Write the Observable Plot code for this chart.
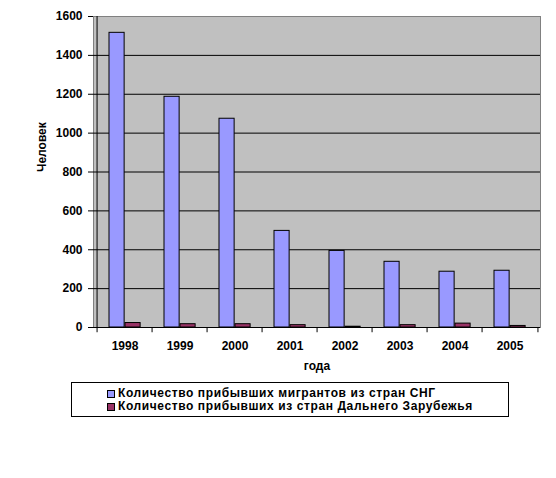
<!DOCTYPE html>
<html>
<head>
<meta charset="utf-8">
<script src="https://cdn.jsdelivr.net/npm/d3@7"></script>
<script src="https://cdn.jsdelivr.net/npm/@observablehq/plot@0.6"></script>
<style>
  body { margin: 0; background: #fff; }
  #wrap { position: relative; width: 556px; height: 478px; font-family: Arial, "Liberation Sans", sans-serif; }
  #legend { position: absolute; left: 71px; top: 382px; width: 436px; height: 33px; border: 1px solid #000; box-sizing: content-box; font-weight: bold; font-size: 12px; letter-spacing: 0.6px; }
  .row { position: absolute; left: 35px; display: flex; align-items: center; white-space: nowrap; line-height: 13px; }
  .sw { width: 6px; height: 6px; border: 1px solid #000; margin-right: 3px; }
</style>
</head>
<body>
<div id="wrap"></div>
<script>
const years = ["1998", "1999", "2000", "2001", "2002", "2003", "2004", "2005"];
const cisValues = [1516, 1187, 1074, 497, 394, 338, 287, 292];
const foreignValues = [23, 17, 17, 12, 4, 12, 20, 8];
const seriesNames = ["Количество прибывших мигрантов из стран СНГ", "Количество прибывших из стран Дальнего Зарубежья"];
const seriesColors = ["#9999FF", "#993366"];
const yTicks = [0, 200, 400, 600, 800, 1000, 1200, 1400, 1600];
const gridTicks = [200, 400, 600, 800, 1000, 1200, 1400];
const xTitle = "года";
const yTitle = "Человек";

const rows = years.map((y, i) => ({year: y, cis: cisValues[i], foreign: foreignValues[i]}));

const W = 556, H = 376, mL = 93, mR = 16, mT = 16, mB = 49;
const step = (W - mL - mR) / years.length;

const chart = Plot.plot({
  width: W, height: H,
  marginLeft: mL, marginRight: mR, marginTop: mT, marginBottom: mB,
  style: {fontFamily: "Arial, 'Liberation Sans', sans-serif", fontSize: "12px", fontWeight: "bold", color: "#000", background: "transparent"},
  x: {domain: years, padding: 0, tickSize: 0, tickPadding: 14, label: null},
  y: {domain: [0, 1600], ticks: yTicks, tickFormat: d => String(d), tickSize: 5, tickPadding: 6, label: null},
  marks: [
    Plot.frame({fill: "#C0C0C0", stroke: "#808080"}),
    Plot.ruleY(gridTicks, {stroke: "#000", strokeWidth: 1}),
    Plot.barY(rows, {x: "year", y: "cis", fill: seriesColors[0], stroke: "#000", strokeWidth: 1, insetLeft: 12, insetRight: step - 28}),
    Plot.barY(rows, {x: "year", y: "foreign", fill: seriesColors[1], stroke: "#000", strokeWidth: 1, insetLeft: 28, insetRight: step - 44}),
    Plot.ruleY([0], {stroke: "#000"}),
    Plot.ruleX(years, {x: d => d, y1: 0, y2: -27, dx: -step / 2, stroke: "#000"}),
    Plot.ruleX([years[years.length - 1]], {x: d => d, y1: 0, y2: -27, dx: step / 2, stroke: "#000"}),
    Plot.ruleX(years.slice(0, 1), {x: d => d, y1: 0, y2: 1600, dx: -step / 2, stroke: "#000"}),
    Plot.text([yTitle], {frameAnchor: "left", dx: -51, rotate: -90, fontWeight: "bold", fontSize: 12}),
    Plot.text([xTitle], {frameAnchor: "bottom", dy: 42, fontWeight: "bold", fontSize: 12})
  ]
});

const wrap = document.getElementById("wrap");
wrap.appendChild(chart);

const legend = document.createElement("div");
legend.id = "legend";
seriesNames.forEach((name, i) => {
  const row = document.createElement("div");
  row.className = "row";
  row.style.top = (4 + i * 13) + "px";
  const sw = document.createElement("span");
  sw.className = "sw";
  sw.style.background = seriesColors[i];
  const t = document.createElement("span");
  t.textContent = name;
  row.appendChild(sw);
  row.appendChild(t);
  legend.appendChild(row);
});
wrap.appendChild(legend);
</script>
</body>
</html>
